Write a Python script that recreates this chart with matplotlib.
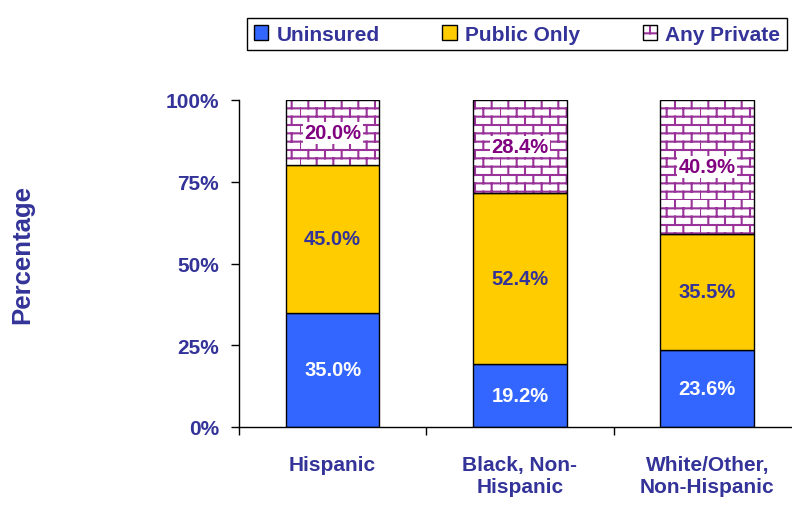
import matplotlib

matplotlib.use("Agg")
import matplotlib.pyplot as plt  # noqa: E402
import numpy as np  # noqa: E402
from matplotlib import hatch as mhatch  # noqa: E402
from matplotlib.legend_handler import HandlerTuple  # noqa: E402
from matplotlib.patches import Patch  # noqa: E402
from matplotlib.path import Path as MPath  # noqa: E402

categories = ["Hispanic", "Black, Non-\nHispanic", "White/Other,\nNon-Hispanic"]
series_names = ["Uninsured", "Public Only", "Any Private"]
uninsured = [35.0, 19.2, 23.6]
public_only = [45.0, 52.4, 35.5]
any_private = [20.0, 28.4, 40.9]
y_ticks = [0, 25, 50, 75, 100]

NAVY = "#333399"
BLUE = "#3366FF"
YELLOW = "#FFCC00"
PURPLE = "#993399"


class BrickHatch(mhatch.HatchPatternBase):
    """Brick pattern triggered by '+' (replaces the plain grid)."""

    rows, cols = 12, 6

    def __init__(self, hatch, density):
        self.on = hatch.count("+") > 0
        n = self.rows
        self.num_vertices = (n * 2 + n * self.cols * 2) if self.on else 0

    def set_vertices_and_codes(self, vertices, codes):
        n, m = self.rows, self.cols
        k = 0
        for i in range(n):
            y0 = i / n
            vertices[k] = (0, y0)
            vertices[k + 1] = (1, y0)
            codes[k] = MPath.MOVETO
            codes[k + 1] = MPath.LINETO
            k += 2
            for j in range(m):
                x = (j + 0.5 * (i % 2)) / m
                vertices[k] = (x, y0)
                vertices[k + 1] = (x, (i + 1) / n)
                codes[k] = MPath.MOVETO
                codes[k + 1] = MPath.LINETO
                k += 2


mhatch._hatch_types = [BrickHatch] + [
    t for t in mhatch._hatch_types
    if t not in (mhatch.HorizontalHatch, mhatch.VerticalHatch)
]

plt.rcParams["font.family"] = ["Liberation Sans", "DejaVu Sans"]
plt.rcParams["font.weight"] = "bold"
plt.rcParams["hatch.linewidth"] = 1.5

fig = plt.figure(figsize=(7.92, 5.06), dpi=100)
ax = fig.add_axes([239 / 792, 78 / 506, 562 / 792, 327 / 506])

x = np.arange(len(categories))
width = 0.5

# stacked bars
ax.bar(x, uninsured, width, color=BLUE, edgecolor="black", linewidth=1.0)
bot2 = np.array(uninsured)
ax.bar(x, public_only, width, bottom=bot2, color=YELLOW,
       edgecolor="black", linewidth=1.0)
bot3 = bot2 + np.array(public_only)
# hatch takes the edge colour, so draw the purple brick fill then a black outline
ax.bar(x, any_private, width, bottom=bot3, color="white", edgecolor=PURPLE,
       hatch="+", linewidth=0)
ax.bar(x, any_private, width, bottom=bot3, fill=False, edgecolor="black",
       linewidth=1.0)

for xi, v in zip(x, uninsured):
    ax.text(xi, v / 2, f"{v:.1f}%", ha="center", va="center",
            color="white", fontsize=14.5)
for xi, v, b0 in zip(x, public_only, bot2):
    ax.text(xi, b0 + v / 2, f"{v:.1f}%", ha="center", va="center",
            color=NAVY, fontsize=14.5)
for xi, v, b0 in zip(x, any_private, bot3):
    ax.text(xi, b0 + v / 2, f"{v:.1f}%", ha="center", va="center",
            color="#800080", fontsize=14.5,
            bbox=dict(facecolor="white", edgecolor="none", pad=1))

ax.set_xlim(-0.5, len(categories) - 0.5)
ax.set_ylim(0, 100)
ax.set_yticks(y_ticks)
ax.set_yticklabels([f"{t}%" for t in y_ticks])
ax.tick_params(axis="y", direction="out", length=5.5, width=1, pad=9,
               labelsize=15, labelcolor=NAVY)

ax.set_xticks(np.arange(len(categories) + 1) - 0.5)
ax.set_xticklabels([])
ax.tick_params(axis="x", which="major", direction="out", length=6, width=1)
ax.set_xticks(x, minor=True)
ax.set_xticklabels(categories, minor=True)
ax.tick_params(axis="x", which="minor", length=0, pad=20, labelsize=15,
               labelcolor=NAVY)

for side in ["top", "right"]:
    ax.spines[side].set_visible(False)
for side in ["left", "bottom"]:
    ax.spines[side].set_linewidth(1.0)
ax.spines["bottom"].set_clip_on(False)

fig.text(22 / 792, 1 - 255 / 506, "Percentage", rotation=90, ha="center",
         va="center", fontsize=18.5, color=NAVY)

h1 = Patch(facecolor=BLUE, edgecolor="black", linewidth=1.0)
h2 = Patch(facecolor=YELLOW, edgecolor="black", linewidth=1.0)
h3 = (Patch(facecolor="white", edgecolor=PURPLE, hatch="+", linewidth=0),
      Patch(fill=False, edgecolor="black", linewidth=1.0))
leg = fig.legend([h1, h2, h3], series_names, loc="upper center",
                 bbox_to_anchor=(517 / 792, 1 - 9 / 506),
                 handler_map={tuple: HandlerTuple(ndivide=1, pad=0)},
                 ncol=3, fancybox=False, edgecolor="black", fontsize=15,
                 handlelength=0.7, handleheight=0.7, columnspacing=3.0,
                 handletextpad=0.4, borderpad=0.3, framealpha=1)
leg.get_frame().set_linewidth(1.0)
for t in leg.get_texts():
    t.set_color(NAVY)

fig.savefig("out.png", dpi=100)
plt.close(fig)
